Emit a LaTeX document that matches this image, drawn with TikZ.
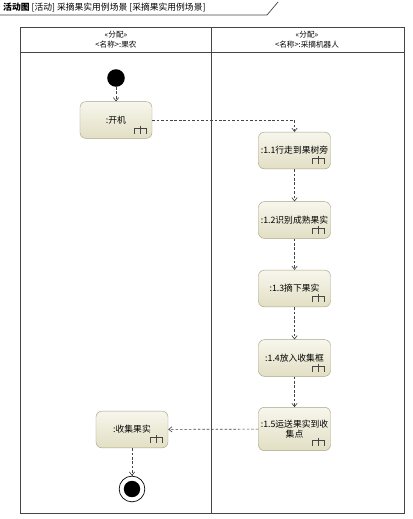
\documentclass[tikz,border=0pt]{standalone}
\usepackage{fontspec}
\newfontfamily\cjk{Noto Sans CJK SC}
\usetikzlibrary{arrows.meta,positioning}
\definecolor{rand}{HTML}{A8A487}
\definecolor{hell}{HTML}{F7F6EC}
\definecolor{dunkel}{HTML}{E2DFC4}
\definecolor{linie}{HTML}{454545}
\tikzset{
  aktion/.style={draw=rand,rounded corners=5pt,top color=hell,bottom color=dunkel,
                 minimum width=2.16cm,minimum height=1.1cm,align=center,inner sep=1pt},
  fluss/.style={draw=linie,line width=0.55pt,dashed,dash pattern=on 2.2pt off 1.6pt,
                -{Straight Barb[length=1mm,width=1.6mm]}},
  bahn/.style={draw=linie,line width=0.6pt},
  kopf/.style={align=center,font=\cjk\fontsize{6.5}{9}\selectfont},
}
% kleines Aufruf-Symbol unten rechts in einer Aktion
\newcommand{\rechen}[1]{%
  \draw[linie,line width=0.5pt] ($(#1.south east)+(-12,-13)$) -- ++(0,2.5)
    ($(#1.south east)+(-18,-5)$) |- ++(6,-5.5) -| ++(6,5.5)
    ($(#1.south east)+(-12,-10.5)$) -- ++(0,5.5);}
\usetikzlibrary{calc}
\begin{document}
\begin{tikzpicture}[x=0.03cm,y=-0.03cm,font=\cjk\fontsize{7.5}{9}\selectfont]
  \useasboundingbox[fill=white] (0,0) rectangle (413,519);
  % Rahmen-Titel
  \draw[linie,line width=0.6pt] (0,15) -- (267,15) -- (278,2);
  \node[anchor=west,inner sep=0pt] (titel) at (3,7) {\textbf{活动图} [活动] 采摘果实用例场景 [采摘果实用例场景]};
  % Schwimmbahnen
  \draw[bahn] (20,27) rectangle (404,513);
  \draw[bahn] (20,52) -- (404,52);
  \draw[bahn] (211,27) -- (211,513);
  \node[kopf] (bahnA) at (116,39.5) {«分配»\\<名称>:果农};
  \node[kopf] (bahnB) at (307,39.5) {«分配»\\<名称>:采摘机器人};
  % Knoten
  \node[circle,fill=black,minimum size=15pt,inner sep=0pt] (start) at (116,78) {};
  \node[aktion] (an) at (116,120) {:开机};
  \node[aktion] (a1) at (294.5,150.5) {:1.1行走到果树旁};
  \node[aktion] (a2) at (294.5,220) {:1.2识别成熟果实};
  \node[aktion] (a3) at (294.5,288.5) {:1.3摘下果实};
  \node[aktion] (a4) at (294.5,358) {:1.4放入收集框};
  \node[aktion,minimum height=1.3cm] (a5) at (294.5,429) {:1.5运送果实到收\\集点};
  \node[aktion] (sammeln) at (132,429.5) {:收集果实};
  \node[circle,draw=black,line width=0.6pt,fill=white,minimum size=22pt,inner sep=0pt] (ende) at (132,489) {};
  \node[circle,fill=black,minimum size=14pt,inner sep=0pt] at (ende) {};
  \foreach \n in {an,a1,a2,a3,a4,a5,sammeln} {\rechen{\n}}
  % Kontrollfluss
  \draw[fluss] (start) -- (an);
  \draw[fluss] (an.east) -| (a1.north);
  \draw[fluss] (a1) -- (a2);
  \draw[fluss] (a2) -- (a3);
  \draw[fluss] (a3) -- (a4);
  \draw[fluss] (a4) -- (a5);
  \draw[fluss] (a5) -- (sammeln);
  \draw[fluss] (sammeln) -- (ende);
\end{tikzpicture}
\end{document}
